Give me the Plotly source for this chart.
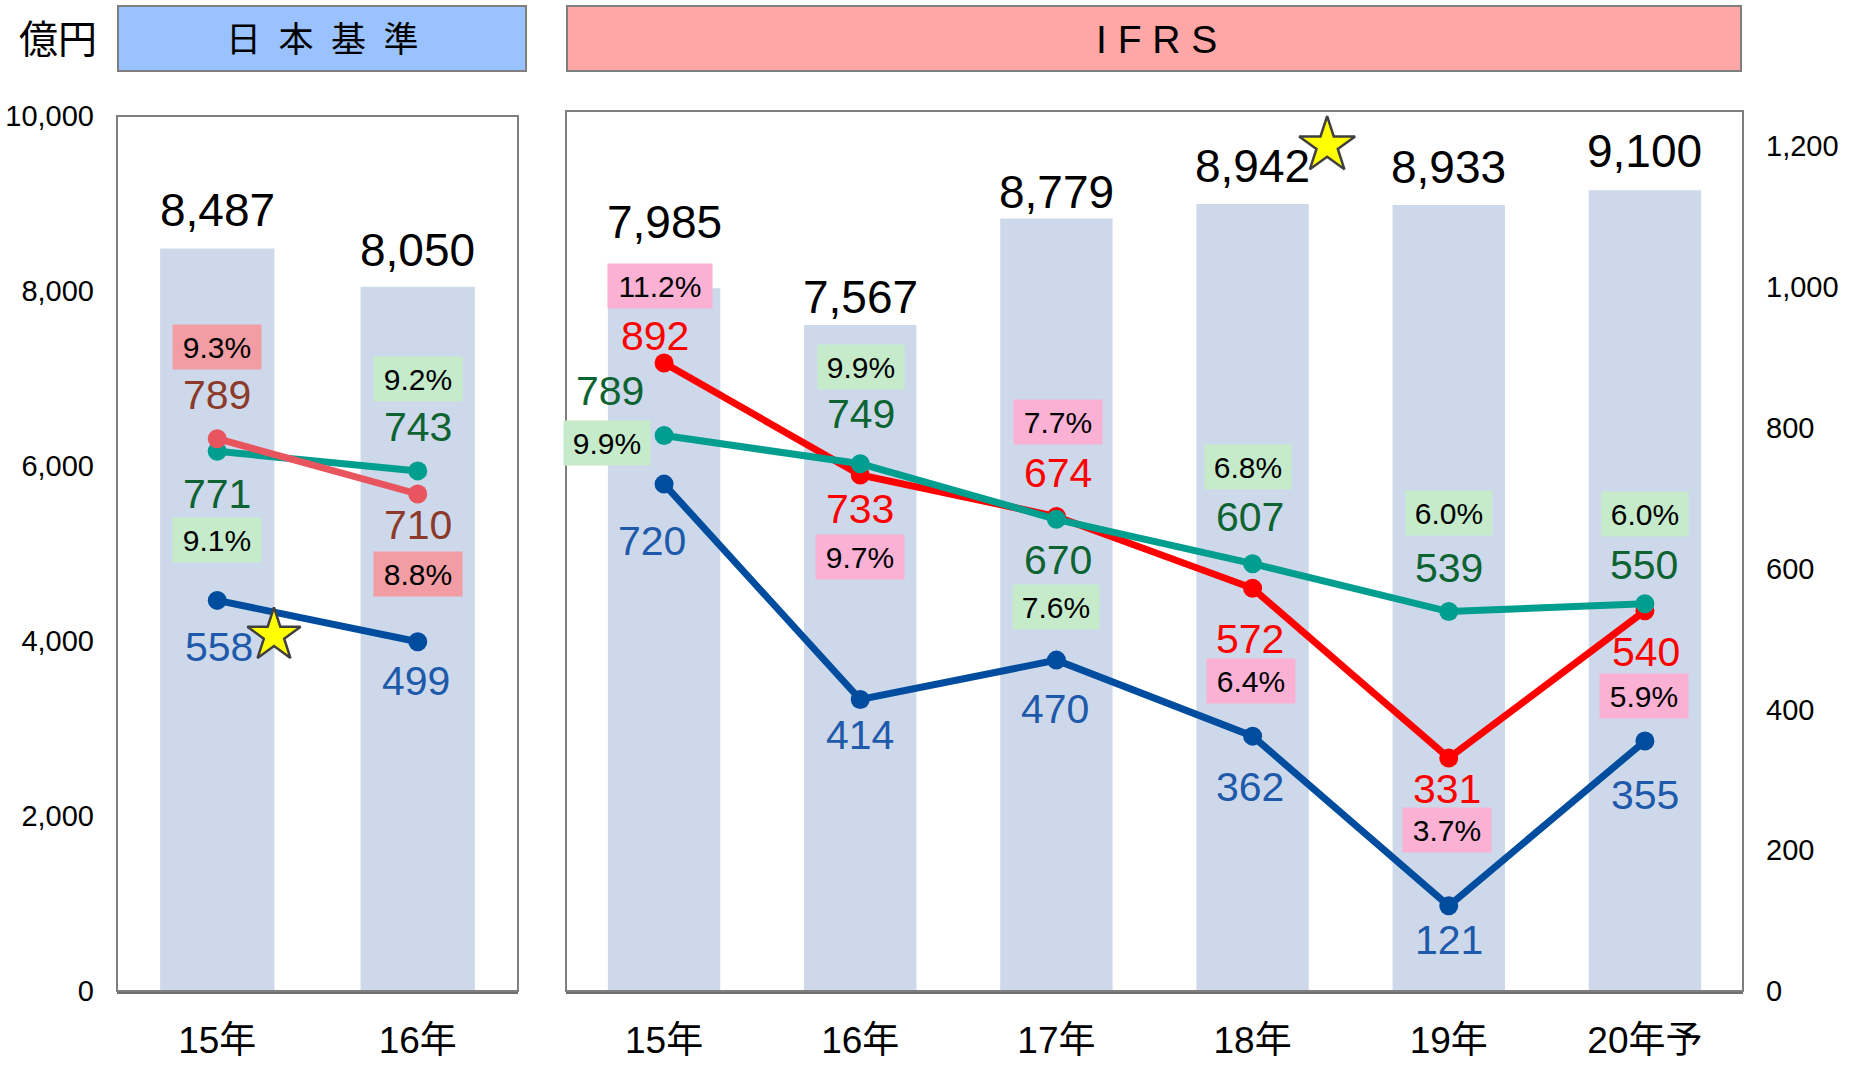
import plotly.graph_objects as go

W, H = 1855, 1066

# ---------------- data ----------------
jp_categories = ["15年", "16年"]
jp_sales = [8487, 8050]
jp_op_income = [789, 710]
jp_op_margin = ["9.3%", "8.8%"]
jp_ordinary = [771, 743]
jp_ordinary_margin = ["9.1%", "9.2%"]
jp_net = [558, 499]

ifrs_categories = ["15年", "16年", "17年", "18年", "19年", "20年予"]
ifrs_sales = [7985, 7567, 8779, 8942, 8933, 9100]
ifrs_op_income = [892, 733, 674, 572, 331, 540]
ifrs_op_margin = ["11.2%", "9.7%", "7.7%", "6.4%", "3.7%", "5.9%"]
ifrs_pretax = [789, 749, 670, 607, 539, 550]
ifrs_pretax_margin = ["9.9%", "9.9%", "7.6%", "6.8%", "6.0%", "6.0%"]
ifrs_net = [720, 414, 470, 362, 121, 355]

left_ticks = [0, 2000, 4000, 6000, 8000, 10000]
right_ticks = [0, 200, 400, 600, 800, 1000, 1200]

# ---------------- styles / label offsets (px) ----------------
FONT = "Liberation Sans, Arial, Noto Sans CJK JP, sans-serif"
BAR_COLOR = "#CDD9EA"
BLUE, RED, TEAL, SALMON = "#004C9E", "#FF0000", "#009E8F", "#E8555F"
BLUE_T, RED_T, GREEN_T, BROWN_T = "#1F5AAA", "#FF0000", "#0E6332", "#8B3A2B"
PINK_BOX, GREEN_BOX, SALMON_BOX = "#FAB1D4", "#C6EBCB", "#F29CA3"
LINE_W, MARK_S = 7, 19
PCT_SIZE = 30

jp_bar_dy = [38, 37]
ifrs_bar_dy = [66, 28, 26, 38, 38, 39]

jp_op_dy, jp_op_pdy = [44, -31], [92, -80]
jp_ord_dy, jp_ord_pdy = [-43, 44], [-89, 92]
jp_net_dy, jp_net_dx = [-47, -39], [2, -2]

ifrs_op_dy = [27, -34, 44, -51, -31, -41]
ifrs_op_dx = [-9, 0, 2, -3, -2, 1]
ifrs_op_pdy = [77, -82, 95, -93, -72, -85]
ifrs_op_pdx = [-4, 0, 2, -2, -2, -1]
ifrs_pre_dy = [45, 50, -41, 47, 44, 39]
ifrs_pre_dx = [-54, 1, 2, -3, 0, -1]
ifrs_pre_pdy = [-7, 97, -88, 97, 99, 90]
ifrs_pre_pdx = [-57, 1, 0, -5, 0, 0]
ifrs_net_dy = [-57, -35, -49, -51, -34, -54]
ifrs_net_dx = [-12, 0, -1, -3, 0, 0]

jp_x = list(range(len(jp_categories)))
ifrs_x = list(range(len(ifrs_categories)))

fig = go.Figure()

# bars
fig.add_trace(go.Bar(x=jp_x, y=jp_sales, xaxis="x", yaxis="y", width=0.57,
                     marker=dict(color=BAR_COLOR, line=dict(width=0)), hoverinfo="skip"))
fig.add_trace(go.Bar(x=ifrs_x, y=ifrs_sales, xaxis="x2", yaxis="y3", width=0.573,
                     marker=dict(color=BAR_COLOR, line=dict(width=0)), hoverinfo="skip"))


def line(x, y, color, xa, ya):
    fig.add_trace(go.Scatter(x=x, y=y, xaxis=xa, yaxis=ya, mode="lines+markers",
                             line=dict(color=color, width=LINE_W),
                             marker=dict(color=color, size=MARK_S), hoverinfo="skip"))


# left panel lines
line(jp_x, jp_ordinary, TEAL, "x", "y2")
line(jp_x, jp_op_income, SALMON, "x", "y2")
line(jp_x, jp_net, BLUE, "x", "y2")
# right panel lines
line(ifrs_x, ifrs_net, BLUE, "x2", "y4")
line(ifrs_x, ifrs_op_income, RED, "x2", "y4")
line(ifrs_x, ifrs_pretax, TEAL, "x2", "y4")

# stars
fig.add_trace(go.Scatter(x=[jp_x[0] + 0.283], y=[jp_net[0] - 50], xaxis="x", yaxis="y2",
                         mode="markers", hoverinfo="skip",
                         marker=dict(symbol="star", size=40, color="#FFFF00",
                                     line=dict(color="#404040", width=2.5))))
fig.add_trace(go.Scatter(x=[ifrs_x[3] + 0.38], y=[ifrs_sales[3] + 666], xaxis="x2", yaxis="y3",
                         mode="markers", hoverinfo="skip",
                         marker=dict(symbol="star", size=42, color="#FFFF00",
                                     line=dict(color="#404040", width=2.5))))

ann = []


def label(x, y, text, xref, yref, color, size, dy, dx=0, bg=None, w=None):
    a = dict(x=x, y=y, xref=xref, yref=yref, text=text, showarrow=False,
             xanchor="center", yanchor="middle", xshift=dx, yshift=dy,
             font=dict(family=FONT, size=size, color=color))
    if bg:
        a.update(bgcolor=bg, borderpad=0, width=w, height=44)
    ann.append(a)


for i, v in enumerate(jp_sales):
    label(i, v, f"{v:,}", "x", "y", "#000000", 46, jp_bar_dy[i])
for i, v in enumerate(ifrs_sales):
    label(i, v, f"{v:,}", "x2", "y3", "#000000", 46, ifrs_bar_dy[i])

for i in jp_x:
    label(i, jp_op_income[i], f"{jp_op_income[i]}", "x", "y2", BROWN_T, 41, jp_op_dy[i])
    label(i, jp_op_income[i], jp_op_margin[i], "x", "y2", "#000000", PCT_SIZE, jp_op_pdy[i],
          bg=SALMON_BOX, w=88)
    label(i, jp_ordinary[i], f"{jp_ordinary[i]}", "x", "y2", GREEN_T, 41, jp_ord_dy[i])
    label(i, jp_ordinary[i], jp_ordinary_margin[i], "x", "y2", "#000000", PCT_SIZE,
          jp_ord_pdy[i], bg=GREEN_BOX, w=88)
    label(i, jp_net[i], f"{jp_net[i]}", "x", "y2", BLUE_T, 41, jp_net_dy[i], jp_net_dx[i])

for i in ifrs_x:
    label(i, ifrs_op_income[i], f"{ifrs_op_income[i]}", "x2", "y4", RED_T, 41,
          ifrs_op_dy[i], ifrs_op_dx[i])
    label(i, ifrs_op_income[i], ifrs_op_margin[i], "x2", "y4", "#000000", PCT_SIZE,
          ifrs_op_pdy[i], ifrs_op_pdx[i], bg=PINK_BOX,
          w=104 if len(ifrs_op_margin[i]) > 4 else 88)
    label(i, ifrs_pretax[i], f"{ifrs_pretax[i]}", "x2", "y4", GREEN_T, 41,
          ifrs_pre_dy[i], ifrs_pre_dx[i])
    label(i, ifrs_pretax[i], ifrs_pretax_margin[i], "x2", "y4", "#000000", PCT_SIZE,
          ifrs_pre_pdy[i], ifrs_pre_pdx[i], bg=GREEN_BOX, w=86)
    label(i, ifrs_net[i], f"{ifrs_net[i]}", "x2", "y4", BLUE_T, 41,
          ifrs_net_dy[i], ifrs_net_dx[i])

# header texts
for txt, cx, size in [("億円", 58, 39), ("日\u2002本\u2002基\u2002準", 322, 35),
                      ("I F R S", 1156, 39)]:
    ann.append(dict(x=cx / W, y=1 - 39 / H, xref="paper", yref="paper", text=txt,
                    xanchor="center", yanchor="middle", showarrow=False,
                    font=dict(family=FONT, size=size, color="#000000")))

shapes = [
    dict(type="rect", xref="paper", yref="paper", x0=118 / W, x1=526 / W,
         y0=1 - 71 / H, y1=1 - 6 / H, fillcolor="#99C2FF",
         line=dict(color="#7F7F7F", width=2), layer="below"),
    dict(type="rect", xref="paper", yref="paper", x0=567 / W, x1=1741 / W,
         y0=1 - 71 / H, y1=1 - 6 / H, fillcolor="#FFA6A6",
         line=dict(color="#7F7F7F", width=2), layer="below"),
    dict(type="rect", xref="x domain", yref="y domain", x0=0, x1=1, y0=0, y1=1,
         line=dict(color="#7F7F7F", width=2)),
    dict(type="rect", xref="x2 domain", yref="y3 domain", x0=0, x1=1, y0=0, y1=1,
         line=dict(color="#7F7F7F", width=2)),
]

tickfont_y = dict(family=FONT, size=29, color="#000000")
tickfont_x = dict(family=FONT, size=37, color="#000000")

fig.update_layout(
    template="none",
    width=W, height=H, margin=dict(l=0, r=0, t=0, b=0, pad=0, autoexpand=False),
    paper_bgcolor="white", plot_bgcolor="white", showlegend=False,
    annotations=ann, shapes=shapes,
    xaxis=dict(domain=[117 / W, 518 / W], range=[-0.5, len(jp_x) - 0.5],
               tickvals=jp_x, ticktext=jp_categories, tickfont=tickfont_x,
               showline=True, linecolor="#6F6F6F", linewidth=3, ticks="",
               showgrid=False, zeroline=False, ticklabelstandoff=15, fixedrange=True,
               automargin=False),
    yaxis=dict(domain=[75 / H, 950 / H], range=[0, 10000], tickvals=left_ticks,
               tickformat=",", tickfont=tickfont_y, showgrid=False, zeroline=False,
               ticks="", showline=False, ticklabelstandoff=22, fixedrange=True,
               automargin=False),
    yaxis2=dict(overlaying="y", range=[0, 1250], visible=False, fixedrange=True,
                automargin=False),
    xaxis2=dict(domain=[566 / W, 1743 / W], range=[-0.5, len(ifrs_x) - 0.5],
                anchor="y3", tickvals=ifrs_x, ticktext=ifrs_categories,
                tickfont=tickfont_x, showline=True, linecolor="#6F6F6F", linewidth=3,
                ticks="", showgrid=False, zeroline=False, ticklabelstandoff=15,
                fixedrange=True, automargin=False),
    yaxis3=dict(domain=[75 / H, 955 / H], anchor="x2", range=[0, 10000],
                visible=False, fixedrange=True, automargin=False),
    yaxis4=dict(overlaying="y3", anchor="x2", side="right", range=[0, 1250],
                tickvals=right_ticks, tickformat=",", tickfont=tickfont_y,
                showgrid=False, zeroline=False, ticks="", showline=False,
                ticklabelstandoff=22, fixedrange=True, automargin=False),
)

fig.write_html("out.html", config={"displayModeBar": False},
               post_script="document.body.style.margin='0';")
